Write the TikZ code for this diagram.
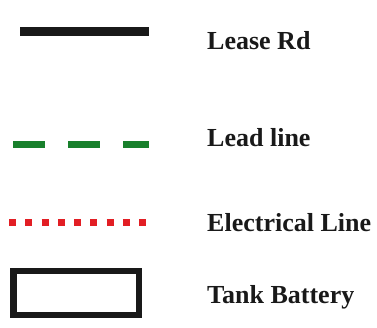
\documentclass[tikz,border=0pt]{standalone}
\usepackage{fontspec}
\setmainfont{Liberation Serif}
\definecolor{leadgreen}{RGB}{24,128,44}
\definecolor{elecred}{RGB}{226,30,36}
\definecolor{roadblack}{RGB}{25,25,25}
\begin{document}
\begin{tikzpicture}[x=1pt,y=-1pt,
  lbl/.style={anchor=base west,inner sep=0pt,font=\fontsize{26}{30}\selectfont\bfseries,text=roadblack},
  roadline/.style={line width=9pt,draw=roadblack},
  leadline/.style={line width=7pt,draw=leadgreen,dash pattern=on 32pt off 23pt},
  elecline/.style={line width=7pt,draw=elecred,dash pattern=on 7pt off 9.25pt},
  tankbox/.style={line width=6.5pt,draw=roadblack}]
\useasboundingbox (0,0) rectangle (377,328);
\draw[roadline] (20,32) -- (149,32);
\node[lbl] (road) at (207,50) {Lease Rd};
\draw[leadline] (13,144.5) -- (149,144.5);
\node[lbl] (lead) at (207,147) {Lead line};
\draw[elecline] (9,223) -- (146,223);
\node[lbl] (elec) at (207,232) {Electrical Line};
\draw[tankbox] (13.5,271) rectangle (139,315);
\node[lbl] (tank) at (207,304) {Tank Battery};
\end{tikzpicture}
\end{document}
